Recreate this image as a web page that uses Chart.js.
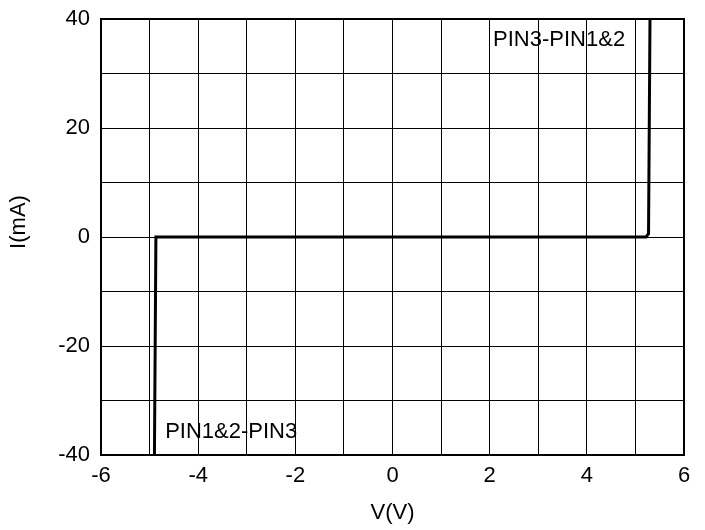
<!DOCTYPE html>
<html>
<head>
<meta charset="utf-8">
<script src="https://cdn.jsdelivr.net/npm/chart.js@4.4.1/dist/chart.umd.min.js"></script>
<style>
  body { margin: 0; background: #fff; }
  #wrap { width: 705px; height: 530px; }
</style>
</head>
<body>
<div id="wrap"><canvas id="myChart" width="705" height="530"></canvas></div>
<script>
// I-V curve (V in volts, I in mA)
const voltage = [-4.9, -4.87, 5.22, 5.27, 5.3];
const current = [-40, 0, 0, 0.6, 40];

const labelTexts = ["PIN3-PIN1&2", "PIN1&2-PIN3"];
const labelX = [2.07, -4.68];
const labelY = [36.1, -35.7];

const font = "Liberation Sans, Arial, sans-serif";
const fontSize = 22;

// frame round the plot area, curve labels, y title
const framePlugin = {
  id: "frame",
  afterDraw(chart) {
    const { ctx, chartArea, scales } = chart;
    ctx.save();
    ctx.strokeStyle = "#000";
    ctx.lineWidth = 2;
    ctx.strokeRect(chartArea.left, chartArea.top,
      chartArea.right - chartArea.left, chartArea.bottom - chartArea.top);
    ctx.fillStyle = "#000";
    ctx.font = fontSize + "px " + font;
    ctx.textBaseline = "middle";
    labelTexts.forEach((t, i) => {
      ctx.fillText(t, scales.x.getPixelForValue(labelX[i]), scales.y.getPixelForValue(labelY[i]));
    });
    // y axis title
    ctx.translate(19, 222);
    ctx.rotate(-Math.PI / 2);
    ctx.textAlign = "center";
    ctx.fillText("I(mA)", 0, 0);
    ctx.restore();
  },
};

const ctx = document.getElementById("myChart").getContext("2d");
new Chart(ctx, {
  type: "scatter",
  data: {
    datasets: [
      {
        data: voltage.map((v, i) => ({ x: v, y: current[i] })),
        showLine: true,
        borderColor: "#000",
        borderWidth: 3,
        pointRadius: 0,
        fill: false,
      },
    ],
  },
  options: {
    responsive: false,
    animation: false,
    layout: { padding: { top: 19, right: 21, left: 0, bottom: 0 } },
    plugins: { legend: { display: false }, tooltip: { enabled: false } },
    scales: {
      x: {
        min: -6,
        max: 6,
        afterFit: (s) => { s.height = 75; s.paddingLeft = 0; s.paddingRight = 0; },
        ticks: {
          stepSize: 1,
          color: "#000",
          padding: 8,
          font: { family: font, size: fontSize },
          callback: (v) => (v % 2 === 0 ? v : ""),
          maxRotation: 0,
          autoSkip: false,
        },
        grid: { color: "#000", lineWidth: 1, drawTicks: false },
        border: { color: "#000", width: 2 },
        title: { display: true, text: "V(V)", color: "#000", font: { family: font, size: fontSize }, padding: { top: 8 } },
      },
      y: {
        min: -40,
        max: 40,
        afterFit: (s) => { s.width = 101; s.paddingTop = 0; s.paddingBottom = 0; },
        ticks: {
          stepSize: 10,
          color: "#000",
          padding: 11,
          font: { family: font, size: fontSize },
          callback: (v) => (v % 20 === 0 ? v : ""),
          autoSkip: false,
        },
        grid: { color: "#000", lineWidth: 1, drawTicks: false },
        border: { color: "#000", width: 2 },
      },
    },
  },
  plugins: [framePlugin],
});
</script>
</body>
</html>
